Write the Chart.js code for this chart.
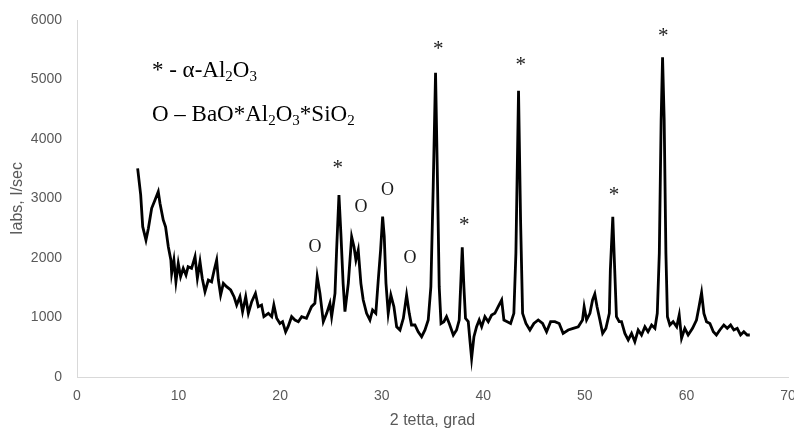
<!DOCTYPE html>
<html>
<head>
<meta charset="utf-8">
<script src="https://cdn.jsdelivr.net/npm/chart.js@4.4.1/dist/chart.umd.min.js"></script>
<style>
  body { margin: 0; background: #fff; }
</style>
</head>
<body>
<canvas id="grafico" width="794" height="430"></canvas>
<script>
//angulo 2 tetta (grad)
var twoTheta = [5.97, 6.27, 6.47, 6.79, 7.03, 7.35, 7.68, 8.0, 8.17, 8.49, 8.72, 8.99, 9.24, 9.32, 9.54, 9.74, 9.97,
    10.2, 10.46, 10.73, 10.94, 11.28, 11.62, 11.85, 12.11, 12.33, 12.6, 12.93, 13.25, 13.51, 13.75, 13.92, 14.14,
    14.41, 14.73, 15.13, 15.46, 15.72, 16.04, 16.3, 16.61, 16.87, 17.2, 17.57, 17.85, 18.17, 18.4, 18.84, 19.17,
    19.38, 19.66, 19.98, 20.24, 20.54, 20.78, 21.13, 21.46, 21.79, 22.12, 22.59, 23.09, 23.42, 23.65, 23.92, 24.25,
    24.58, 24.9, 25.07, 25.4, 25.56, 25.79, 25.98, 26.2, 26.38, 26.71, 27.04, 27.27, 27.46, 27.69, 27.95, 28.18,
    28.51, 28.84, 29.1, 29.42, 29.66, 29.89, 30.09, 30.25, 30.42, 30.64, 30.9, 31.2, 31.47, 31.8, 32.13, 32.45,
    32.71, 32.93, 33.27, 33.59, 33.93, 34.26, 34.58, 34.84, 35.07, 35.3, 35.5, 35.66, 35.84, 36.12, 36.38, 36.65,
    37.05, 37.37, 37.63, 37.77, 37.93, 38.09, 38.25, 38.52, 38.68, 38.85, 39.08, 39.34, 39.6, 39.84, 40.16, 40.49,
    40.82, 41.14, 41.47, 41.81, 42.03, 42.36, 42.69, 43.01, 43.21, 43.47, 43.67, 43.87, 44.2, 44.59, 44.98, 45.41,
    45.84, 46.23, 46.63, 47.05, 47.47, 47.86, 48.36, 48.85, 49.35, 49.77, 49.93, 50.17, 50.5, 50.76, 50.98, 51.2,
    51.48, 51.75, 52.07, 52.41, 52.51, 52.75, 52.94, 53.11, 53.38, 53.61, 53.94, 54.27, 54.6, 54.92, 55.25, 55.58,
    55.91, 56.22, 56.57, 56.9, 57.13, 57.33, 57.51, 57.65, 57.81, 57.98, 58.13, 58.37, 58.69, 59.04, 59.29, 59.52,
    59.84, 60.17, 60.6, 60.99, 61.24, 61.49, 61.72, 61.98, 62.31, 62.65, 62.95, 63.29, 63.68, 64.02, 64.35, 64.67,
    65.0, 65.33, 65.65, 65.98, 66.24];

//intensidade (Iabs, I/sec)
var intensity = [3507, 3060, 2526, 2300, 2500, 2835, 2975, 3115, 2920, 2640, 2526, 2190, 1966, 1743, 1966, 1600, 1910,
    1686, 1827, 1714, 1854, 1827, 2022, 1659, 1938, 1659, 1434, 1630, 1600, 1798, 1966, 1630, 1378,
    1574, 1518, 1462, 1350, 1210, 1350, 1098, 1350, 1070, 1266, 1406, 1182, 1210, 1014, 1070, 1014,
    1210, 986, 900, 930, 760, 845, 1014, 958, 930, 1014, 986, 1182, 1238, 1686, 1406, 930,
    1070, 1238, 1014, 1406, 2134, 3059, 2415, 1574, 1098, 1574, 2358, 2190, 1966, 2134, 1574, 1294,
    1070, 958, 1126, 1070, 1630, 2134, 2694, 2358, 1574, 1070, 1378, 1182, 845, 790, 986, 1378,
    1070, 874, 874, 760, 677, 790, 958, 1518, 3198, 5114, 3198, 1518, 900, 930, 1014, 900,
    706, 790, 958, 1518, 2180, 1518, 986, 930, 622, 314, 677, 845, 958, 845, 1014, 930,
    1042, 1070, 1182, 1294, 958, 930, 900, 1070, 2078, 4812, 2639, 1070, 900, 790, 900, 958,
    900, 760, 930, 930, 900, 733, 790, 818, 845, 958, 1182, 958, 1070, 1294, 1395, 1182,
    958, 733, 818, 1070, 1798, 2694, 1798, 1014, 930, 930, 733, 622, 733, 594, 790, 706,
    845, 760, 874, 818, 1070, 2078, 4320, 5372, 4320, 2078, 1014, 874, 930, 845, 1042, 650,
    818, 706, 818, 958, 1182, 1417, 1070, 930, 900, 760, 706, 790, 874, 818, 874, 790,
    818, 706, 760, 706, 706];

//marcas dos picos (* = alfa-Al2O3, O = BaO*Al2O3*SiO2)
var markText = ['O', '*', 'O', 'O', 'O', '*', '*', '*', '*', '*'];
var markX = [23.43, 25.66, 27.95, 30.58, 32.78, 35.56, 38.12, 43.70, 52.88, 57.71];
var markY = [2185, 3563, 2857, 3143, 1995, 5563, 2605, 5294, 3104, 5765];

//legenda dentro do grafico: pedacos de texto, true = subscrito
var legendLine1 = [['* - α-Al', false], ['2', true], ['O', false], ['3', true]];
var legendLine2 = [['O – BaO*Al', false], ['2', true], ['O', false], ['3', true], ['*SiO', false], ['2', true]];
var legendX = 7.38;
var legendY = [5037, 4308];

var points = twoTheta.map(function (t, i) {
    return { x: t, y: intensity[i] };
});

//desenha as marcas e a legenda
var marksPlugin = {
    id: 'marks',
    afterDatasetsDraw: function (chart) {
        var c = chart.ctx;
        var sx = chart.scales.x;
        var sy = chart.scales.y;
        c.save();
        c.fillStyle = '#1a1a1a';
        c.textAlign = 'center';
        c.textBaseline = 'middle';
        for (var i = 0; i < markText.length; i++) {
            c.font = markText[i] == '*' ? '21px "Liberation Serif"' : '18px "Liberation Serif"';
            var dy = markText[i] == '*' ? 3 : 0;
            c.fillText(markText[i], sx.getPixelForValue(markX[i]), sy.getPixelForValue(markY[i]) + dy);
        }
        c.textAlign = 'left';
        c.textBaseline = 'alphabetic';
        c.fillStyle = '#000';
        [legendLine1, legendLine2].forEach(function (line, k) {
            var px = sx.getPixelForValue(legendX);
            var py = sy.getPixelForValue(legendY[k]);
            line.forEach(function (part) {
                c.font = part[1] ? '15px "Liberation Serif"' : '23px "Liberation Serif"';
                c.fillText(part[0], px, py + (part[1] ? 4 : 0));
                px += c.measureText(part[0]).width;
            });
        });
        c.restore();
    }
};

var ctx = document.querySelector('#grafico').getContext('2d');
var chart = new Chart(ctx, {
    type: 'line',
    data: {
        datasets: [{
            data: points,
            borderColor: '#000',
            borderWidth: 2.8,
            pointRadius: 0,
            tension: 0,
            fill: false
        }]
    },
    options: {
        responsive: false,
        animation: false,
        plugins: { legend: { display: false }, tooltip: { enabled: false } },
        layout: { padding: { top: 20, right: 6, left: 0, bottom: 0 } },
        scales: {
            x: {
                type: 'linear',
                min: 0,
                max: 70,
                grid: { display: false, drawTicks: false },
                border: { display: true, color: '#d9d9d9' },
                ticks: {
                    stepSize: 10, padding: 11, color: '#595959', font: { size: 14, family: 'Liberation Sans' },
                    callback: function (v) { return String(v); }
                },
                title: { display: true, text: '2 tetta, grad', color: '#595959', padding: 0, font: { size: 16, family: 'Liberation Sans' } },
                afterFit: function (s) { s.height = 53; s.paddingLeft = 0; s.paddingRight = 0; }
            },
            y: {
                min: 0,
                max: 6000,
                grid: { display: false, drawTicks: false },
                border: { display: true, color: '#d9d9d9' },
                ticks: {
                    stepSize: 1000, padding: 15, color: '#595959', font: { size: 14, family: 'Liberation Sans' },
                    callback: function (v) { return String(v); }
                },
                title: { display: true, text: 'Iabs, I/sec', color: '#595959', padding: { top: 8, bottom: 0 }, font: { size: 16, family: 'Liberation Sans' } },
                afterFit: function (s) { s.width = 77; s.paddingTop = 0; s.paddingBottom = 0; }
            }
        }
    },
    plugins: [marksPlugin]
});
</script>
</body>
</html>
